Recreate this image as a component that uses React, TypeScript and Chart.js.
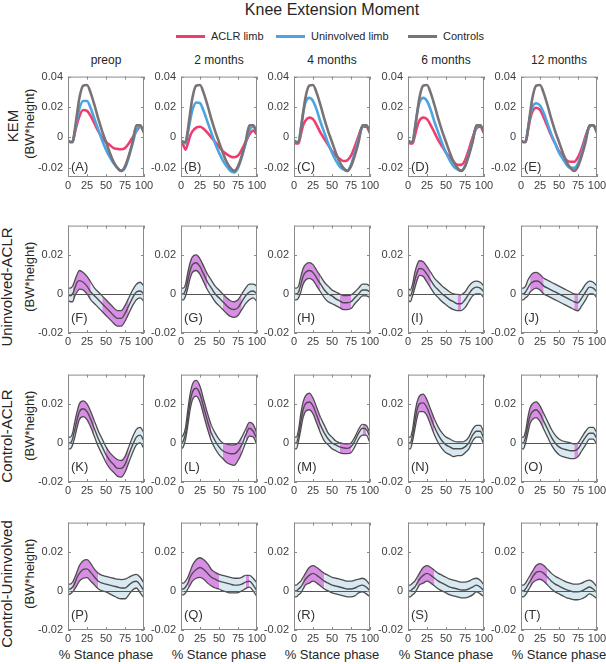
import React, { useEffect, useRef } from 'react';
import { Chart, registerables } from 'chart.js';
Chart.register(...registerables);

const FONT = '"Liberation Sans", Arial, Helvetica, sans-serif';

// ---------- labels ----------
const TITLE = 'Knee Extension Moment';
const LEGEND_LABELS = ['ACLR limb', 'Uninvolved limb', 'Controls'];
const COLUMN_TITLES = ['preop', '2 months', '4 months', '6 months', '12 months'];
const ROW_TITLES = ['KEM', 'Uninvolved-ACLR', 'Control-ACLR', 'Control-Uninvolved'];
const UNIT_LABEL = '(BW*height)';
const X_LABEL = '% Stance phase';
const PANEL_LETTERS = [
  ['(A)', '(B)', '(C)', '(D)', '(E)'],
  ['(F)', '(G)', '(H)', '(I)', '(J)'],
  ['(K)', '(L)', '(M)', '(N)', '(O)'],
  ['(P)', '(Q)', '(R)', '(S)', '(T)'],
];

// ---------- ticks ----------
const X_TICKS = [0, 25, 50, 75, 100];
const KEM_Y_TICKS = [-0.02, 0, 0.02, 0.04];
const DIFF_Y_TICKS = [-0.02, 0, 0.02];
const KEM_Y_RANGE = [-0.026, 0.04];
const DIFF_Y_RANGE = [-0.02, 0.035];

// ---------- x samples (% stance) ----------
const STANCE = [0, 3, 6, 9, 12, 15, 20, 25, 30, 35, 40, 45, 50, 55, 60, 65, 70, 75, 80, 85, 90, 95, 100];

// ---------- row 1: KEM ----------
const CONTROLS_KEM = [-0.002, -0.003, -0.003, 0.005, 0.016, 0.026, 0.034, 0.0345, 0.029, 0.021, 0.012, 0.004, -0.003, -0.010, -0.016, -0.020, -0.022, -0.019, -0.012, -0.003, 0.008, 0.008, 0.003];

const UNINV_KEM_PRE = [-0.002, -0.003, -0.003, 0.004, 0.012, 0.019, 0.024, 0.024, 0.019, 0.012, 0.005, -0.002, -0.008, -0.013, -0.017, -0.020, -0.022, -0.020, -0.013, -0.004, 0.005, 0.007, 0.004];
const UNINV_KEM_2M = [-0.002, -0.003, -0.004, 0.003, 0.011, 0.018, 0.023, 0.0225, 0.017, 0.010, 0.003, -0.004, -0.010, -0.015, -0.019, -0.022, -0.023, -0.020, -0.013, -0.004, 0.005, 0.007, 0.003];
const UNINV_KEM_4M = [-0.002, -0.003, -0.003, 0.006, 0.016, 0.023, 0.026, 0.024, 0.018, 0.010, 0.003, -0.004, -0.010, -0.015, -0.019, -0.021, -0.022, -0.018, -0.010, -0.001, 0.007, 0.008, 0.004];
const UNINV_KEM_6M = [-0.002, -0.003, -0.003, 0.006, 0.016, 0.023, 0.026, 0.024, 0.018, 0.010, 0.003, -0.004, -0.010, -0.015, -0.019, -0.021, -0.022, -0.019, -0.011, -0.002, 0.007, 0.008, 0.004];
const UNINV_KEM_12M = [-0.002, -0.003, -0.003, 0.005, 0.014, 0.020, 0.0225, 0.021, 0.016, 0.009, 0.002, -0.004, -0.010, -0.014, -0.018, -0.020, -0.020, -0.017, -0.010, -0.001, 0.007, 0.008, 0.004];

const ACLR_KEM_PRE = [-0.002, -0.003, -0.003, 0.003, 0.009, 0.014, 0.018, 0.0175, 0.014, 0.009, 0.004, 0.000, -0.003, -0.005, -0.007, -0.0075, -0.0078, -0.007, -0.004, 0.000, 0.004, 0.007, 0.005];
const ACLR_KEM_2M = [-0.003, -0.005, -0.008, -0.004, 0.001, 0.004, 0.0065, 0.007, 0.0055, 0.003, 0.000, -0.003, -0.006, -0.009, -0.011, -0.0125, -0.013, -0.012, -0.008, -0.003, 0.002, 0.0045, 0.002];
const ACLR_KEM_4M = [-0.002, -0.004, -0.004, 0.002, 0.008, 0.011, 0.013, 0.012, 0.008, 0.003, -0.001, -0.005, -0.009, -0.012, -0.014, -0.0155, -0.015, -0.012, -0.006, 0.001, 0.007, 0.007, 0.003];
const ACLR_KEM_6M = [-0.003, -0.004, -0.004, 0.001, 0.007, 0.011, 0.013, 0.012, 0.008, 0.003, -0.002, -0.006, -0.010, -0.013, -0.016, -0.018, -0.018, -0.015, -0.008, 0.000, 0.006, 0.007, 0.003];
const ACLR_KEM_12M = [-0.002, -0.003, -0.003, 0.004, 0.012, 0.017, 0.0195, 0.018, 0.013, 0.007, 0.001, -0.004, -0.009, -0.012, -0.015, -0.016, -0.016, -0.013, -0.007, 0.001, 0.007, 0.008, 0.004];

// ---------- row 2: Uninvolved - ACLR ----------
const UA_MEAN_PRE = [0.000, -0.001, 0.000, 0.003, 0.006, 0.0068, 0.006, 0.004, 0.001, -0.001, -0.003, -0.005, -0.007, -0.009, -0.011, -0.0125, -0.0125, -0.010, -0.006, -0.002, 0.001, 0.0015, 0.000];
const UA_UP_PRE = [0.003, 0.003, 0.004, 0.007, 0.010, 0.012, 0.011, 0.009, 0.006, 0.003, 0.001, -0.001, -0.003, -0.005, -0.007, -0.0085, -0.0085, -0.006, -0.002, 0.002, 0.005, 0.006, 0.004];
const UA_LO_PRE = [-0.003, -0.004, -0.004, -0.001, 0.001, 0.0025, 0.002, 0.000, -0.003, -0.005, -0.007, -0.009, -0.011, -0.013, -0.015, -0.0165, -0.0165, -0.014, -0.010, -0.006, -0.003, -0.002, -0.004];
const UA_SIG_PRE = [[6, 28], [45, 80]];

const UA_MEAN_2M = [0.000, 0.000, 0.002, 0.007, 0.012, 0.015, 0.016, 0.014, 0.010, 0.006, 0.003, 0.000, -0.002, -0.004, -0.006, -0.0075, -0.008, -0.007, -0.004, -0.001, 0.001, 0.0015, 0.000];
const UA_UP_2M = [0.003, 0.003, 0.005, 0.011, 0.016, 0.019, 0.020, 0.018, 0.014, 0.010, 0.007, 0.004, 0.002, 0.000, -0.002, -0.0035, -0.004, -0.003, 0.000, 0.003, 0.005, 0.005, 0.004];
const UA_LO_2M = [-0.003, -0.003, -0.001, 0.003, 0.008, 0.011, 0.012, 0.010, 0.006, 0.002, -0.001, -0.004, -0.006, -0.008, -0.010, -0.0115, -0.012, -0.011, -0.008, -0.005, -0.003, -0.002, -0.004];
const UA_SIG_2M = [[6, 37], [55, 80]];

const UA_MEAN_4M = [0.000, 0.000, 0.001, 0.005, 0.009, 0.011, 0.012, 0.011, 0.008, 0.005, 0.002, 0.000, -0.001, -0.0025, -0.0035, -0.0045, -0.0045, -0.004, -0.002, 0.000, 0.002, 0.002, 0.001];
const UA_UP_4M = [0.003, 0.003, 0.004, 0.009, 0.013, 0.015, 0.016, 0.015, 0.012, 0.009, 0.006, 0.004, 0.002, 0.001, 0.000, -0.0008, -0.0008, -0.0005, 0.001, 0.003, 0.005, 0.005, 0.004];
const UA_LO_4M = [-0.003, -0.003, -0.002, 0.001, 0.005, 0.007, 0.008, 0.007, 0.004, 0.001, -0.002, -0.004, -0.005, -0.006, -0.007, -0.008, -0.008, -0.0075, -0.005, -0.003, -0.001, -0.001, -0.002];
const UA_SIG_4M = [[10, 35], [60, 75]];

const UA_MEAN_6M = [0.000, -0.001, 0.002, 0.007, 0.011, 0.013, 0.0125, 0.010, 0.007, 0.004, 0.002, 0.000, -0.0015, -0.003, -0.004, -0.005, -0.005, -0.003, 0.000, 0.0025, 0.0035, 0.003, 0.001];
const UA_UP_6M = [0.003, 0.002, 0.005, 0.011, 0.015, 0.017, 0.0165, 0.014, 0.011, 0.008, 0.006, 0.004, 0.0025, 0.001, 0.000, -0.0002, -0.0003, 0.001, 0.004, 0.006, 0.0066, 0.006, 0.004];
const UA_LO_6M = [-0.003, -0.004, -0.001, 0.003, 0.007, 0.0095, 0.009, 0.006, 0.003, 0.000, -0.002, -0.004, -0.0055, -0.007, -0.008, -0.0085, -0.0085, -0.007, -0.004, -0.001, 0.000, 0.000, -0.002];
const UA_SIG_6M = [[6, 30], [66, 70]];

const UA_MEAN_12M = [0.000, 0.000, 0.001, 0.003, 0.005, 0.006, 0.0066, 0.006, 0.004, 0.003, 0.002, 0.001, 0.000, -0.001, -0.002, -0.003, -0.004, -0.0045, -0.002, 0.001, 0.0035, 0.003, 0.001];
const UA_UP_12M = [0.003, 0.003, 0.004, 0.007, 0.009, 0.0105, 0.011, 0.010, 0.008, 0.007, 0.006, 0.005, 0.004, 0.003, 0.002, 0.001, 0.000, -0.0002, 0.002, 0.005, 0.0066, 0.006, 0.004];
const UA_LO_12M = [-0.003, -0.003, -0.002, -0.001, 0.001, 0.002, 0.003, 0.002, 0.000, -0.001, -0.002, -0.003, -0.004, -0.005, -0.006, -0.007, -0.008, -0.0086, -0.006, -0.003, 0.000, 0.000, -0.002];
const UA_SIG_12M = [[12, 28], [70, 75]];

// ---------- row 3: Control - ACLR ----------
const CA_MEAN_PRE = [0.000, 0.000, 0.002, 0.007, 0.012, 0.016, 0.0175, 0.016, 0.012, 0.007, 0.002, -0.002, -0.006, -0.009, -0.011, -0.013, -0.013, -0.011, -0.006, -0.001, 0.003, 0.004, 0.001];
const CA_UP_PRE = [0.003, 0.003, 0.005, 0.011, 0.016, 0.020, 0.0215, 0.020, 0.016, 0.011, 0.006, 0.002, -0.002, -0.005, -0.007, -0.0085, -0.009, -0.007, -0.002, 0.003, 0.007, 0.008, 0.005];
const CA_LO_PRE = [-0.003, -0.003, -0.001, 0.003, 0.008, 0.012, 0.0135, 0.012, 0.008, 0.003, -0.002, -0.006, -0.010, -0.013, -0.015, -0.017, -0.0175, -0.015, -0.010, -0.005, -0.001, 0.000, -0.003];
const CA_SIG_PRE = [[8, 35], [48, 80]];

const CA_MEAN_2M = [0.000, 0.001, 0.005, 0.013, 0.021, 0.026, 0.028, 0.025, 0.018, 0.011, 0.005, 0.001, -0.002, -0.004, -0.005, -0.0055, -0.0055, -0.004, -0.001, 0.004, 0.0075, 0.006, 0.002];
const CA_UP_2M = [0.003, 0.004, 0.008, 0.017, 0.025, 0.030, 0.032, 0.029, 0.022, 0.015, 0.009, 0.005, 0.002, 0.000, -0.0005, -0.001, -0.001, 0.000, 0.003, 0.007, 0.0105, 0.0095, 0.005];
const CA_LO_2M = [-0.003, -0.002, 0.002, 0.009, 0.017, 0.022, 0.024, 0.021, 0.014, 0.007, 0.001, -0.003, -0.006, -0.008, -0.010, -0.011, -0.0115, -0.009, -0.005, 0.000, 0.0035, 0.003, -0.001];
const CA_SIG_2M = [[5, 42], [55, 80], [85, 100]];

const CA_MEAN_4M = [0.000, 0.000, 0.004, 0.011, 0.017, 0.020, 0.021, 0.019, 0.014, 0.009, 0.005, 0.002, 0.000, -0.001, -0.002, -0.0025, -0.0028, -0.002, 0.001, 0.005, 0.0075, 0.007, 0.003];
const CA_UP_4M = [0.003, 0.003, 0.007, 0.015, 0.021, 0.024, 0.0255, 0.023, 0.018, 0.013, 0.009, 0.005, 0.003, 0.001, 0.0002, -0.0003, -0.0005, 0.000, 0.003, 0.007, 0.0095, 0.009, 0.005];
const CA_LO_4M = [-0.003, -0.003, 0.001, 0.007, 0.013, 0.016, 0.017, 0.015, 0.010, 0.005, 0.001, -0.001, -0.003, -0.004, -0.005, -0.0055, -0.0055, -0.005, -0.002, 0.002, 0.004, 0.004, 0.000];
const CA_SIG_4M = [[5, 35], [60, 75], [90, 95]];

const CA_MEAN_6M = [0.000, 0.000, 0.004, 0.011, 0.017, 0.020, 0.0205, 0.018, 0.013, 0.008, 0.004, 0.001, -0.001, -0.002, -0.003, -0.003, -0.003, -0.002, 0.000, 0.004, 0.006, 0.006, 0.002];
const CA_UP_6M = [0.003, 0.003, 0.007, 0.015, 0.021, 0.024, 0.025, 0.022, 0.017, 0.012, 0.008, 0.005, 0.003, 0.002, 0.001, 0.0005, 0.0005, 0.001, 0.003, 0.007, 0.009, 0.009, 0.005];
const CA_LO_6M = [-0.003, -0.003, 0.001, 0.007, 0.013, 0.016, 0.016, 0.014, 0.009, 0.004, 0.000, -0.003, -0.005, -0.006, -0.007, -0.0065, -0.0065, -0.005, -0.003, 0.001, 0.003, 0.003, -0.001];
const CA_SIG_6M = [[5, 33]];

const CA_MEAN_12M = [0.000, 0.000, 0.003, 0.009, 0.014, 0.016, 0.017, 0.015, 0.011, 0.007, 0.003, 0.000, -0.002, -0.003, -0.0035, -0.004, -0.004, -0.003, 0.000, 0.003, 0.005, 0.005, 0.002];
const CA_UP_12M = [0.003, 0.003, 0.006, 0.013, 0.018, 0.020, 0.021, 0.019, 0.015, 0.011, 0.007, 0.004, 0.002, 0.001, 0.0005, 0.000, -0.0005, 0.000, 0.003, 0.006, 0.008, 0.008, 0.005];
const CA_LO_12M = [-0.003, -0.003, 0.000, 0.005, 0.010, 0.012, 0.013, 0.011, 0.007, 0.003, -0.001, -0.004, -0.006, -0.007, -0.0075, -0.008, -0.008, -0.007, -0.004, -0.001, 0.002, 0.002, -0.001];
const CA_SIG_12M = [[6, 30], [70, 75]];

// ---------- row 4: Control - Uninvolved ----------
const CU_MEAN_PRE = [0.001, 0.001, 0.002, 0.004, 0.007, 0.009, 0.011, 0.0113, 0.0095, 0.007, 0.005, 0.004, 0.0035, 0.003, 0.0025, 0.002, 0.0015, 0.0015, 0.003, 0.0045, 0.005, 0.003, 0.000];
const CU_UP_PRE = [0.0035, 0.0035, 0.0045, 0.007, 0.010, 0.013, 0.0155, 0.016, 0.014, 0.011, 0.009, 0.008, 0.0075, 0.007, 0.0065, 0.006, 0.0058, 0.006, 0.007, 0.008, 0.0085, 0.007, 0.004];
const CU_LO_PRE = [-0.002, -0.0015, -0.0005, 0.001, 0.003, 0.005, 0.0065, 0.0068, 0.005, 0.003, 0.001, 0.000, -0.0005, -0.0015, -0.0025, -0.0035, -0.004, -0.004, -0.002, 0.0005, 0.0015, -0.001, -0.0035];
const CU_SIG_PRE = [[5, 42]];

const CU_MEAN_2M = [0.001, 0.001, 0.002, 0.004, 0.007, 0.009, 0.011, 0.012, 0.011, 0.009, 0.007, 0.006, 0.005, 0.0045, 0.004, 0.0035, 0.003, 0.003, 0.0035, 0.0045, 0.005, 0.003, 0.000];
const CU_UP_2M = [0.004, 0.004, 0.005, 0.007, 0.010, 0.013, 0.016, 0.017, 0.016, 0.014, 0.011, 0.0095, 0.0085, 0.008, 0.0075, 0.007, 0.0065, 0.0065, 0.007, 0.008, 0.008, 0.0065, 0.004];
const CU_LO_2M = [-0.002, -0.002, -0.001, 0.001, 0.003, 0.005, 0.0065, 0.007, 0.006, 0.004, 0.0025, 0.0015, 0.001, 0.000, -0.0005, -0.001, -0.001, -0.0008, 0.000, 0.0012, 0.002, 0.000, -0.003];
const CU_SIG_2M = [[8, 48], [85, 92]];

const CU_MEAN_4M = [0.000, 0.000, 0.001, 0.002, 0.004, 0.006, 0.008, 0.009, 0.008, 0.0065, 0.005, 0.004, 0.003, 0.0025, 0.002, 0.0015, 0.001, 0.001, 0.0015, 0.0025, 0.003, 0.002, 0.000];
const CU_UP_4M = [0.003, 0.003, 0.004, 0.005, 0.007, 0.009, 0.012, 0.013, 0.012, 0.0105, 0.009, 0.008, 0.007, 0.0065, 0.006, 0.0055, 0.005, 0.005, 0.0055, 0.006, 0.0065, 0.0055, 0.003];
const CU_LO_4M = [-0.003, -0.003, -0.002, -0.001, 0.001, 0.003, 0.004, 0.005, 0.004, 0.0025, 0.001, 0.000, -0.001, -0.0015, -0.002, -0.0025, -0.003, -0.003, -0.0025, -0.001, -0.0005, -0.0015, -0.003];
const CU_SIG_4M = [[12, 38]];

const CU_MEAN_6M = [0.000, 0.000, 0.001, 0.002, 0.004, 0.006, 0.008, 0.009, 0.008, 0.0065, 0.005, 0.004, 0.003, 0.002, 0.0015, 0.001, 0.0005, 0.0005, 0.001, 0.002, 0.003, 0.002, 0.000];
const CU_UP_6M = [0.003, 0.003, 0.004, 0.005, 0.007, 0.009, 0.012, 0.013, 0.012, 0.0105, 0.009, 0.008, 0.007, 0.006, 0.0055, 0.005, 0.0045, 0.0045, 0.005, 0.006, 0.0065, 0.0055, 0.003];
const CU_LO_6M = [-0.003, -0.003, -0.002, -0.001, 0.001, 0.003, 0.004, 0.005, 0.004, 0.0025, 0.001, 0.000, -0.001, -0.002, -0.0025, -0.003, -0.0035, -0.0035, -0.003, -0.002, -0.0005, -0.0015, -0.003];
const CU_SIG_6M = [[12, 37]];

const CU_MEAN_12M = [0.000, 0.000, 0.001, 0.003, 0.005, 0.007, 0.0095, 0.010, 0.009, 0.007, 0.005, 0.0035, 0.0025, 0.0015, 0.0005, 0.000, -0.0005, -0.0005, 0.000, 0.001, 0.002, 0.001, -0.001];
const CU_UP_12M = [0.003, 0.003, 0.004, 0.006, 0.008, 0.010, 0.013, 0.014, 0.013, 0.011, 0.009, 0.0075, 0.0065, 0.0055, 0.0045, 0.004, 0.0035, 0.0035, 0.004, 0.005, 0.0055, 0.0045, 0.002];
const CU_LO_12M = [-0.003, -0.003, -0.002, 0.000, 0.002, 0.004, 0.0055, 0.006, 0.005, 0.003, 0.001, -0.0005, -0.0015, -0.0025, -0.0035, -0.004, -0.0045, -0.0045, -0.004, -0.003, -0.0015, -0.0025, -0.004];
const CU_SIG_12M = [[12, 37]];

// ---------- grouping ----------
const UNINV_KEM = [UNINV_KEM_PRE, UNINV_KEM_2M, UNINV_KEM_4M, UNINV_KEM_6M, UNINV_KEM_12M];
const ACLR_KEM = [ACLR_KEM_PRE, ACLR_KEM_2M, ACLR_KEM_4M, ACLR_KEM_6M, ACLR_KEM_12M];
const DIFF_ROWS = [
  [
    [UA_MEAN_PRE, UA_UP_PRE, UA_LO_PRE, UA_SIG_PRE],
    [UA_MEAN_2M, UA_UP_2M, UA_LO_2M, UA_SIG_2M],
    [UA_MEAN_4M, UA_UP_4M, UA_LO_4M, UA_SIG_4M],
    [UA_MEAN_6M, UA_UP_6M, UA_LO_6M, UA_SIG_6M],
    [UA_MEAN_12M, UA_UP_12M, UA_LO_12M, UA_SIG_12M],
  ],
  [
    [CA_MEAN_PRE, CA_UP_PRE, CA_LO_PRE, CA_SIG_PRE],
    [CA_MEAN_2M, CA_UP_2M, CA_LO_2M, CA_SIG_2M],
    [CA_MEAN_4M, CA_UP_4M, CA_LO_4M, CA_SIG_4M],
    [CA_MEAN_6M, CA_UP_6M, CA_LO_6M, CA_SIG_6M],
    [CA_MEAN_12M, CA_UP_12M, CA_LO_12M, CA_SIG_12M],
  ],
  [
    [CU_MEAN_PRE, CU_UP_PRE, CU_LO_PRE, CU_SIG_PRE],
    [CU_MEAN_2M, CU_UP_2M, CU_LO_2M, CU_SIG_2M],
    [CU_MEAN_4M, CU_UP_4M, CU_LO_4M, CU_SIG_4M],
    [CU_MEAN_6M, CU_UP_6M, CU_LO_6M, CU_SIG_6M],
    [CU_MEAN_12M, CU_UP_12M, CU_LO_12M, CU_SIG_12M],
  ],
];

// ---------- styles / layout ----------
const RED = '#ef3d6e';
const BLUE = '#4ca5e0';
const GREY = '#7a7274';
const BAND = '#d8e9f2';
const MAGENTA = '#d98ee6';
const EDGE = '#4d4d4d';
const TICK_COLOR = '#404040';
const TEXT_COLOR = '#262626';

const COL_LEFT = [68, 181, 294, 408, 521];
const PLOT_W = 76;
const ROW_TOP = [75, 224, 373, 521];
const ROW_H = [102, 109, 109, 109];
const PAD_L = 50;
const PAD_T = 10;
const PAD_R = 16;
const PAD_B = 24;
const LETTER_OFFSET = [10, 15, 15, 15];

const pts = (arr: number[]) => STANCE.map((x, i) => ({ x, y: arr[i] }));

const boxPlugin = {
  id: 'matlabBox',
  afterDatasetsDraw(chart: any, _args: any, opts: any) {
    const { ctx, chartArea: a, scales } = chart;
    ctx.save();
    if (opts.zero) {
      const y = Math.round(scales.y.getPixelForValue(0)) + 0.5;
      ctx.strokeStyle = '#555555';
      ctx.lineWidth = 1;
      ctx.beginPath();
      ctx.moveTo(a.left, y);
      ctx.lineTo(a.right, y);
      ctx.stroke();
    }
    ctx.strokeStyle = '#8a8a8a';
    ctx.lineWidth = 1;
    ctx.strokeRect(a.left + 0.5, a.top + 0.5, a.right - a.left - 1, a.bottom - a.top - 1);
    ctx.beginPath();
    for (const v of opts.xTicks) {
      const x = Math.round(scales.x.getPixelForValue(v)) + 0.5;
      ctx.moveTo(x, a.bottom); ctx.lineTo(x, a.bottom - 3);
      ctx.moveTo(x, a.top); ctx.lineTo(x, a.top + 3);
    }
    for (const v of opts.yTicks) {
      const y = Math.round(scales.y.getPixelForValue(v)) + 0.5;
      ctx.moveTo(a.left, y); ctx.lineTo(a.left + 3, y);
      ctx.moveTo(a.right, y); ctx.lineTo(a.right - 3, y);
    }
    ctx.stroke();
    ctx.restore();
  },
};

function buildDatasets(row: number, col: number): any[] {
  if (row === 0) {
    return [
      { data: pts(CONTROLS_KEM), borderColor: GREY, borderWidth: 2.6 },
      { data: pts(UNINV_KEM[col]), borderColor: BLUE, borderWidth: 2.6 },
      { data: pts(ACLR_KEM[col]), borderColor: RED, borderWidth: 2.6 },
    ];
  }
  const [mean, up, lo, sig] = DIFF_ROWS[row - 1][col] as any[];
  const inSig = (c: any) => {
    const m = (c.p0.parsed.x + c.p1.parsed.x) / 2;
    return (sig as number[][]).some(([s, e]) => m >= s && m <= e);
  };
  return [
    { data: pts(mean), borderColor: EDGE, borderWidth: 1.4, fill: false },
    {
      data: pts(up), borderColor: EDGE, borderWidth: 1.3, fill: '+1', backgroundColor: BAND,
      segment: { backgroundColor: (c: any) => (inSig(c) ? MAGENTA : BAND) },
    },
    { data: pts(lo), borderColor: EDGE, borderWidth: 1.3, fill: false },
  ];
}

function Panel({ row, col }: { row: number; col: number }) {
  const ref = useRef<HTMLCanvasElement>(null);
  const w = PAD_L + PLOT_W + PAD_R;
  const h = PAD_T + ROW_H[row] + PAD_B;
  useEffect(() => {
    const yTicks = row === 0 ? KEM_Y_TICKS : DIFF_Y_TICKS;
    const yRange = row === 0 ? KEM_Y_RANGE : DIFF_Y_RANGE;
    const tickFont = { family: FONT, size: 11 };
    const chart = new Chart(ref.current as HTMLCanvasElement, {
      type: 'line',
      data: { datasets: buildDatasets(row, col) },
      options: {
        responsive: false,
        animation: false,
        devicePixelRatio: 1,
        layout: { padding: { left: 0, top: PAD_T, right: PAD_R, bottom: 0 } },
        elements: { point: { radius: 0 }, line: { cubicInterpolationMode: 'monotone' } },
        plugins: {
          legend: { display: false },
          tooltip: { enabled: false },
          filler: { propagate: false, drawTime: 'beforeDatasetsDraw' },
          matlabBox: { zero: row > 0, xTicks: X_TICKS, yTicks },
        } as any,
        scales: {
          x: {
            type: 'linear', min: 0, max: 100,
            grid: { display: false, drawTicks: false },
            border: { display: false },
            afterBuildTicks: (s: any) => { s.ticks = X_TICKS.map((v) => ({ value: v })); },
            afterFit: (s: any) => { s.height = PAD_B; },
            ticks: { autoSkip: false, maxRotation: 0, padding: 2, color: TICK_COLOR, font: tickFont },
          },
          y: {
            type: 'linear', min: yRange[0], max: yRange[1],
            grid: { display: false, drawTicks: false },
            border: { display: false },
            afterBuildTicks: (s: any) => { s.ticks = yTicks.map((v) => ({ value: v })); },
            afterFit: (s: any) => { s.width = PAD_L; },
            ticks: {
              padding: 5, color: TICK_COLOR, font: tickFont,
              callback: (v: any) => (Number(v) === 0 ? '0' : Number(v).toFixed(2)),
            },
          },
        } as any,
      },
      plugins: [boxPlugin as any],
    });
    return () => chart.destroy();
  }, [row, col]);
  return (
    <canvas
      ref={ref}
      width={w}
      height={h}
      style={{ position: 'absolute', left: COL_LEFT[col] - PAD_L, top: ROW_TOP[row] - PAD_T, width: w, height: h }}
    />
  );
}

function RotLabel({ text, cx, cy, size }: { text: string; cx: number; cy: number; size: number }) {
  const W = 220;
  return (
    <div
      style={{
        position: 'absolute', left: cx - W / 2, top: cy - size * 0.6, width: W, height: size * 1.2,
        lineHeight: `${size * 1.2}px`, fontSize: size, textAlign: 'center', color: TEXT_COLOR,
        transform: 'rotate(-90deg)', transformOrigin: '50% 50%', whiteSpace: 'nowrap',
      }}
    >
      {text}
    </div>
  );
}

export default function App() {
  const legendItems = [
    { label: LEGEND_LABELS[0], color: RED, x: 176 },
    { label: LEGEND_LABELS[1], color: BLUE, x: 276 },
    { label: LEGEND_LABELS[2], color: GREY, x: 408 },
  ];
  const panels: React.ReactNode[] = [];
  for (let r = 0; r < 4; r++) {
    for (let c = 0; c < 5; c++) {
      panels.push(<Panel key={`p${r}${c}`} row={r} col={c} />);
      panels.push(
        <div
          key={`l${r}${c}`}
          style={{
            position: 'absolute', left: COL_LEFT[c] + 3, top: ROW_TOP[r] + ROW_H[r] - LETTER_OFFSET[r] - 8,
            fontSize: 13, lineHeight: '16px', color: '#333333', whiteSpace: 'nowrap',
          }}
        >
          {PANEL_LETTERS[r][c]}
        </div>,
      );
    }
  }
  return (
    <div style={{ position: 'absolute', left: 0, top: 0, width: 606, height: 664, background: '#ffffff', fontFamily: FONT, overflow: 'hidden' }}>
      <div style={{ position: 'absolute', left: 132, top: 0, width: 400, textAlign: 'center', fontSize: 16, lineHeight: '20px', color: TEXT_COLOR }}>
        {TITLE}
      </div>
      {legendItems.map((it) => (
        <div key={it.label} style={{ position: 'absolute', left: it.x, top: 28, height: 16, display: 'flex', alignItems: 'center', whiteSpace: 'nowrap' }}>
          <span style={{ display: 'inline-block', width: 29, height: 3, background: it.color, marginRight: 6 }} />
          <span style={{ fontSize: 11, color: TEXT_COLOR }}>{it.label}</span>
        </div>
      ))}
      {COLUMN_TITLES.map((t, c) => (
        <div key={t} style={{ position: 'absolute', left: COL_LEFT[c] + PLOT_W / 2 - 60, top: 52, width: 120, textAlign: 'center', fontSize: 12, lineHeight: '16px', color: TEXT_COLOR }}>
          {t}
        </div>
      ))}
      {ROW_TITLES.map((t, r) => {
        const center = ROW_TOP[r] + ROW_H[r] / 2;
        return (
          <React.Fragment key={t}>
            <RotLabel text={t} cx={r === 0 ? 13 : 7} cy={r === 0 ? center : center + 8} size={15} />
            <RotLabel text={UNIT_LABEL} cx={30} cy={center - 2} size={13} />
          </React.Fragment>
        );
      })}
      {COL_LEFT.map((l, c) => (
        <div key={`x${c}`} style={{ position: 'absolute', left: l + PLOT_W / 2 - 60, top: 647, width: 120, textAlign: 'center', fontSize: 13, lineHeight: '16px', color: TEXT_COLOR }}>
          {X_LABEL}
        </div>
      ))}
      {panels}
    </div>
  );
}
